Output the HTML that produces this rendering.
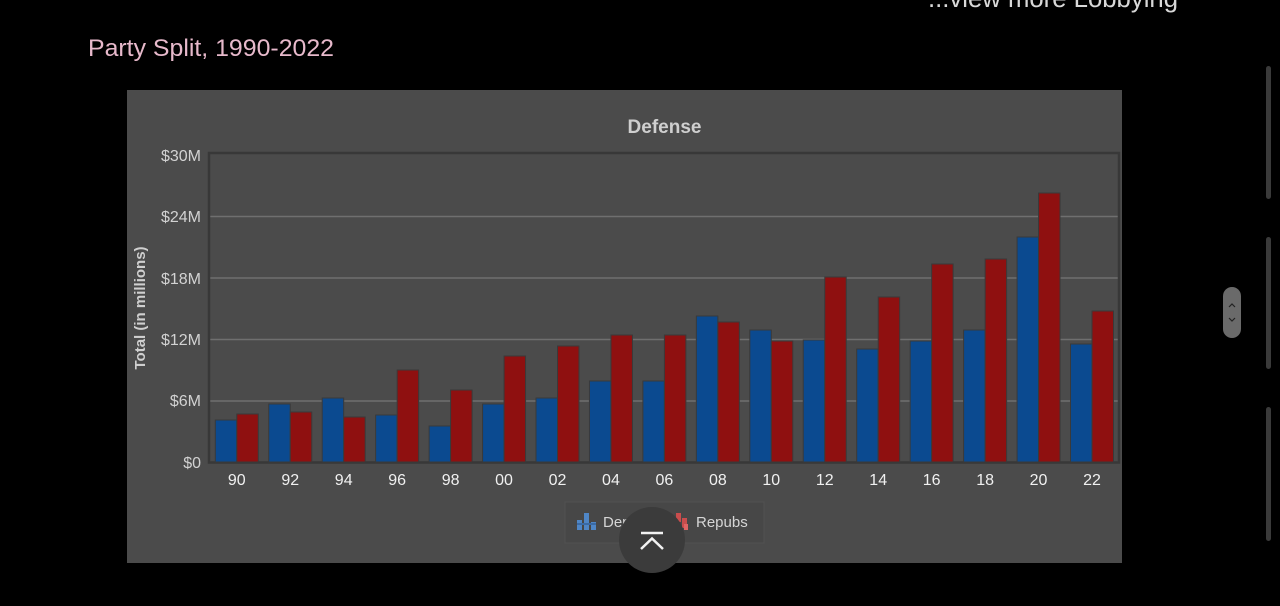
<!DOCTYPE html>
<html>
<head>
<meta charset="utf-8">
<style>
  html,body{margin:0;padding:0;background:#000;}
  body{width:1280px;height:606px;overflow:hidden;}
  svg{display:block;}
  text{font-family:"Liberation Sans",Arial,sans-serif;}
</style>
</head>
<body>
<svg width="1280" height="606" viewBox="0 0 1280 606" xmlns="http://www.w3.org/2000/svg">
  <rect x="0" y="0" width="1280" height="606" fill="#000"/>

  <!-- top link (cut off) -->
  <text x="928" y="7" font-size="26" fill="#d8d8d8" textLength="250" lengthAdjust="spacingAndGlyphs">...view more Lobbying</text>

  <!-- heading -->
  <text x="88" y="56" font-size="24" fill="#e7b9cb" textLength="246" lengthAdjust="spacingAndGlyphs">Party Split, 1990-2022</text>

  <!-- chart container -->
  <rect x="127" y="90" width="995" height="473" fill="#4b4b4b"/>

  <!-- title -->
  <text x="664.5" y="133" font-size="19" font-weight="bold" fill="#cfcfcf" text-anchor="middle">Defense</text>

  <!-- gridlines -->
  <g stroke="#6f6f6f" stroke-width="1.5">
    <line x1="210" y1="216.5" x2="1118" y2="216.5"/>
    <line x1="210" y1="278" x2="1118" y2="278"/>
    <line x1="210" y1="339.5" x2="1118" y2="339.5"/>
    <line x1="210" y1="401" x2="1118" y2="401"/>
  </g>

  <!-- plot border -->
  <rect x="209" y="153" width="910" height="309.5" fill="none" stroke="#383838" stroke-width="2.5"/>

  <!-- y tick labels -->
  <g font-size="16" fill="#d2d2d2" text-anchor="end">
    <text x="201" y="161">$30M</text>
    <text x="201" y="222">$24M</text>
    <text x="201" y="284">$18M</text>
    <text x="201" y="345">$12M</text>
    <text x="201" y="406">$6M</text>
    <text x="201" y="468">$0</text>
  </g>

  <!-- y axis title -->
  <text transform="translate(145,308) rotate(-90)" font-size="15" font-weight="bold" fill="#cfcfcf" text-anchor="middle">Total (in millions)</text>

  <!-- bars -->
  <g id="bars" stroke="#3a3a3a" stroke-width="1"></g>

  <!-- x labels -->
  <g id="xl" font-size="16" fill="#f0f0f0" text-anchor="middle"></g>

  <!-- legend -->
  <rect x="565" y="502" width="199" height="41" fill="#474747" stroke="#525252" stroke-width="1"/>
  <g>
    <rect x="577" y="520" width="5" height="10" fill="#4f86c6"/>
    <rect x="584" y="513" width="5" height="17" fill="#4f86c6"/>
    <rect x="591" y="522" width="5" height="8" fill="#4f86c6"/>
    <rect x="577" y="523" width="19" height="2" fill="#3a6aa5"/>
  </g>
  <text x="603" y="527" font-size="15" fill="#d6d6d6">Dem</text>
  <g>
    <rect x="676" y="513" width="5" height="9" fill="#c94d4d"/>
    <rect x="682" y="518" width="5" height="10" fill="#c94d4d"/>
    <rect x="684" y="524" width="4" height="6" fill="#e06464"/>
  </g>
  <text x="696" y="527" font-size="15" fill="#d6d6d6">Repubs</text>

  <!-- scroll-to-top button -->
  <circle cx="652" cy="540" r="33" fill="#3b3b3b"/>
  <line x1="641" y1="533" x2="663" y2="533" stroke="#f2f2f2" stroke-width="2.5"/>
  <polyline points="641,549 652,538.5 663,549" fill="none" stroke="#f2f2f2" stroke-width="2.5"/>

  <!-- right scrollbar tracks -->
  <g fill="#3a3a3a">
    <rect x="1266" y="66" width="5" height="133" rx="2.5"/>
    <rect x="1266" y="237" width="5" height="132" rx="2.5"/>
    <rect x="1266" y="407" width="5" height="134" rx="2.5"/>
  </g>
  <!-- scroll handle -->
  <rect x="1223" y="287" width="18" height="51" rx="9" fill="#6a6a6a"/>
  <polyline points="1229,307 1232,304 1235,307" fill="none" stroke="#222" stroke-width="1.2"/>
  <polyline points="1229,318 1232,321 1235,318" fill="none" stroke="#222" stroke-width="1.2"/>

  <script>
    (function(){
      var ns="http://www.w3.org/2000/svg";
      var D=[420,404,398,415,426,404,398,381,381,316,330,340,349,341,330,237,344];
      var R=[414,412,417,370,390,356,346,335,335,322,341,277,297,264,259,193,311];
      var L=["90","92","94","96","98","00","02","04","06","08","10","12","14","16","18","20","22"];
      var base=462;
      var g=document.getElementById("bars");
      var xl=document.getElementById("xl");
      for(var i=0;i<17;i++){
        var c=236.8+53.45*i;
        var r1=document.createElementNS(ns,"rect");
        r1.setAttribute("x",c-21.5);r1.setAttribute("y",D[i]);
        r1.setAttribute("width",21.5);r1.setAttribute("height",base-D[i]);
        r1.setAttribute("fill","#0b4a90");
        g.appendChild(r1);
        var r2=document.createElementNS(ns,"rect");
        r2.setAttribute("x",c);r2.setAttribute("y",R[i]);
        r2.setAttribute("width",21.5);r2.setAttribute("height",base-R[i]);
        r2.setAttribute("fill","#8f1010");
        g.appendChild(r2);
        var t=document.createElementNS(ns,"text");
        t.setAttribute("x",c);t.setAttribute("y",485);
        t.textContent=L[i];
        xl.appendChild(t);
      }
    })();
  </script>
</svg>
</body>
</html>
